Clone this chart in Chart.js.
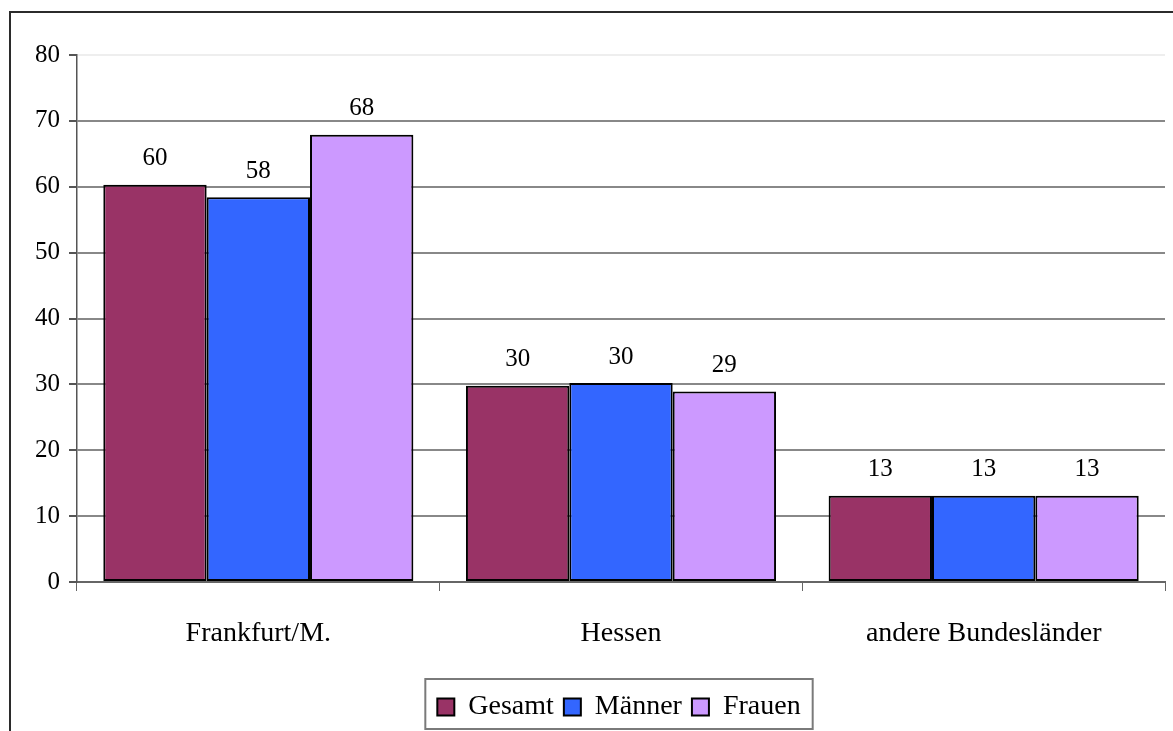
<!DOCTYPE html>
<html>
<head>
<meta charset="utf-8">
<script src="https://cdn.jsdelivr.net/npm/chart.js@4"></script>
<style>
  html, body { margin: 0; padding: 0; background: #fff; overflow: hidden; }
  #wrap { position: relative; width: 1173px; height: 731px; }
  #frame { position: absolute; left: 9px; top: 11px; width: 1300px; height: 900px; border: 2px solid #2b2b2b; }
  #chart { position: absolute; left: 0; top: 0; }
</style>
</head>
<body>
<div id="wrap">
  <div id="frame"></div>
  <canvas id="chart" width="1173" height="731"></canvas>
</div>
<script>
const categories = ['Frankfurt/M.', 'Hessen', 'andere Bundesländer'];
const gesamt = [60.3, 29.8, 13.1];
const maenner = [58.4, 30.2, 13.1];
const frauen = [67.9, 28.9, 13.1];
const yTicks = [0, 10, 20, 30, 40, 50, 60, 70, 80];

const serif = "'Liberation Serif', 'Times New Roman', serif";

// Zahlen über den Balken
const valueLabels = {
  id: 'valueLabels',
  afterDatasetsDraw(chart) {
    const { ctx } = chart;
    ctx.save();
    ctx.font = '25px ' + serif;
    ctx.fillStyle = '#000';
    ctx.textAlign = 'center';
    ctx.textBaseline = 'middle';
    chart.data.datasets.forEach((ds, di) => {
      chart.getDatasetMeta(di).data.forEach((bar, i) => {
        ctx.fillText(Math.round(ds.data[i]), bar.x, bar.y - 26);
      });
    });
    ctx.restore();
  }
};

// Legende unter die Diagrammfläche zentrieren und einrahmen
const legendFrame = {
  id: 'legendFrame',
  afterLayout(chart) {
    const lg = chart.legend;
    const shift = (chart.chartArea.left + chart.chartArea.right) / 2 - (lg.left + lg.right) / 2 - 2;
    lg.left += shift;
    lg.right += shift;
  },
  afterDraw(chart) {
    const boxes = chart.legend.legendHitBoxes;
    if (!boxes || !boxes.length) return;
    const left = Math.min(...boxes.map(b => b.left)) - 12;
    const right = Math.max(...boxes.map(b => b.left + b.width)) + 12;
    const top = boxes[0].top - 14;
    const bottom = boxes[0].top + boxes[0].height + 8;
    const { ctx } = chart;
    ctx.save();
    ctx.strokeStyle = '#7a7a7a';
    ctx.lineWidth = 2;
    ctx.strokeRect(left, top, right - left, bottom - top);
    ctx.restore();
  }
};

const barStyle = { borderColor: '#000', borderWidth: 2, borderSkipped: false, barPercentage: 1, categoryPercentage: 0.855 };

new Chart(document.getElementById('chart'), {
  type: 'bar',
  data: {
    labels: categories,
    datasets: [
      { label: 'Gesamt', data: gesamt, backgroundColor: '#993366', ...barStyle },
      { label: 'Männer', data: maenner, backgroundColor: '#3366FF', ...barStyle },
      { label: 'Frauen', data: frauen, backgroundColor: '#CC99FF', ...barStyle }
    ]
  },
  options: {
    responsive: false,
    animation: false,
    devicePixelRatio: 1,
    layout: { padding: { left: 0, right: 8, top: 55, bottom: 0 } },
    plugins: {
      tooltip: { enabled: false },
      legend: {
        position: 'bottom',
        labels: {
          color: '#000',
          boxWidth: 17,
          boxHeight: 17,
          padding: 10,
          font: { family: serif, size: 28 }
        }
      }
    },
    scales: {
      x: {
        grid: {
          offset: true,
          drawOnChartArea: false,
          drawTicks: true,
          tickLength: 9,
          color: '#666'
        },
        border: { color: '#666', width: 2 },
        ticks: { color: '#000', padding: 26, font: { family: serif, size: 28 } },
        afterFit(scale) { scale.height = 101; }
      },
      y: {
        min: 0,
        max: 80,
        afterBuildTicks(scale) { scale.ticks = yTicks.map(v => ({ value: v })); },
        grid: {
          color: ctx => ctx.tick && ctx.tick.value === 80 ? '#eeeeee' : '#888888',
          lineWidth: 2,
          tickLength: 8,
          tickColor: '#555'
        },
        border: { color: '#555', width: 1.5 },
        ticks: { color: '#000', padding: 9, font: { family: serif, size: 25 } },
        afterFit(scale) { scale.width = 77; }
      }
    }
  },
  plugins: [valueLabels, legendFrame]
});
</script>
</body>
</html>
